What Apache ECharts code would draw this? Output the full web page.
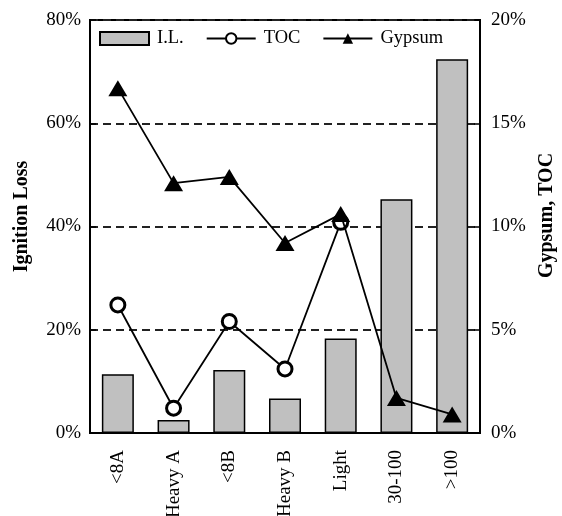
<!DOCTYPE html>
<html>
<head>
<meta charset="utf-8">
<script src="https://cdn.jsdelivr.net/npm/echarts@6/dist/echarts.min.js"></script>
<style>
  html, body { margin: 0; padding: 0; background: #fff; }
  #chart { width: 562px; height: 516px; }
</style>
</head>
<body>
<div id="chart"></div>
<script>
// categories and values
const categories = ['<8A', 'Heavy A', '<8B', 'Heavy B', 'Light', '30-100', '>100'];
const ignitionLoss = [11.4, 2.5, 12.2, 6.7, 18.3, 45.3, 72.4];   // %, left axis
const toc = [6.2, 1.2, 5.4, 3.1, 10.2, null, null];               // %, right axis
const gypsum = [16.7, 12.1, 12.4, 9.2, 10.6, 1.7, 0.9];           // %, right axis

const font = 'Liberation Serif';

const chart = echarts.init(document.getElementById('chart'));
chart.setOption({
  animation: false,
  textStyle: { fontFamily: font, color: '#000' },
  grid: {
    left: 90, right: 82, top: 20, bottom: 83,
    outerBoundsMode: 'none',
    show: true, borderColor: '#000', borderWidth: 2
  },
  legend: {
    left: 99, top: 29, padding: 0,
    itemWidth: 49, itemHeight: 13, itemGap: 22,
    textStyle: { fontFamily: font, fontSize: 18.5, color: '#000', lineHeight: 18, padding: [0, 0, 0, 3] },
    data: [
      { name: 'I.L.', icon: 'rect' },
      { name: 'TOC' },
      { name: 'Gypsum' }
    ]
  },
  xAxis: {
    type: 'category',
    data: categories,
    axisLine: { lineStyle: { color: '#000', width: 2 } },
    axisTick: { inside: true, length: 6, lineStyle: { color: '#000', width: 1.5 } },
    axisLabel: { rotate: 90, margin: 17, fontSize: 19, color: '#000', fontFamily: font }
  },
  yAxis: [
    {
      type: 'value', min: 0, max: 80, interval: 20,
      name: 'Ignition Loss', nameLocation: 'middle', nameRotate: 90, nameGap: 58,
      nameTextStyle: { fontFamily: font, fontSize: 20, fontWeight: 'bold', color: '#000', padding: [0, 0, 0, 20] },
      axisLine: { show: true, lineStyle: { color: '#000', width: 2 } },
      axisTick: { show: true, inside: true, length: 6, lineStyle: { color: '#000', width: 1.5 } },
      axisLabel: { formatter: '{value}%', fontSize: 19, color: '#000', margin: 9, fontFamily: font },
      splitLine: { show: true, lineStyle: { color: '#222', type: [8, 5], width: 1.8 } }
    },
    {
      type: 'value', min: 0, max: 20, interval: 5, position: 'right',
      name: 'Gypsum, TOC', nameLocation: 'middle', nameRotate: 90, nameGap: 56,
      nameTextStyle: { fontFamily: font, fontSize: 20, fontWeight: 'bold', color: '#000', padding: [0, 0, 0, 22] },
      axisLine: { show: true, lineStyle: { color: '#000', width: 2 } },
      axisTick: { show: true, inside: true, length: 6, lineStyle: { color: '#000', width: 1.5 } },
      axisLabel: { formatter: '{value}%', fontSize: 19, color: '#000', margin: 11, fontFamily: font },
      splitLine: { show: false }
    }
  ],
  series: [
    {
      name: 'I.L.', type: 'bar', yAxisIndex: 0,
      data: ignitionLoss, barWidth: 32,
      itemStyle: { color: '#c0c0c0', borderColor: '#000', borderWidth: 1.5 },
      emphasis: { disabled: true }
    },
    {
      name: 'TOC', type: 'line', yAxisIndex: 1,
      data: toc, symbol: 'circle', symbolSize: 14,
      lineStyle: { color: '#000', width: 1.8 },
      itemStyle: { color: '#fff', borderColor: '#000', borderWidth: 3 },
      emphasis: { disabled: true }, z: 3
    },
    {
      name: 'Gypsum', type: 'line', yAxisIndex: 1,
      data: gypsum, symbol: 'triangle', symbolSize: [19, 16],
      lineStyle: { color: '#000', width: 1.8 },
      itemStyle: { color: '#000' },
      emphasis: { disabled: true }, z: 4
    }
  ]
});
</script>
</body>
</html>
